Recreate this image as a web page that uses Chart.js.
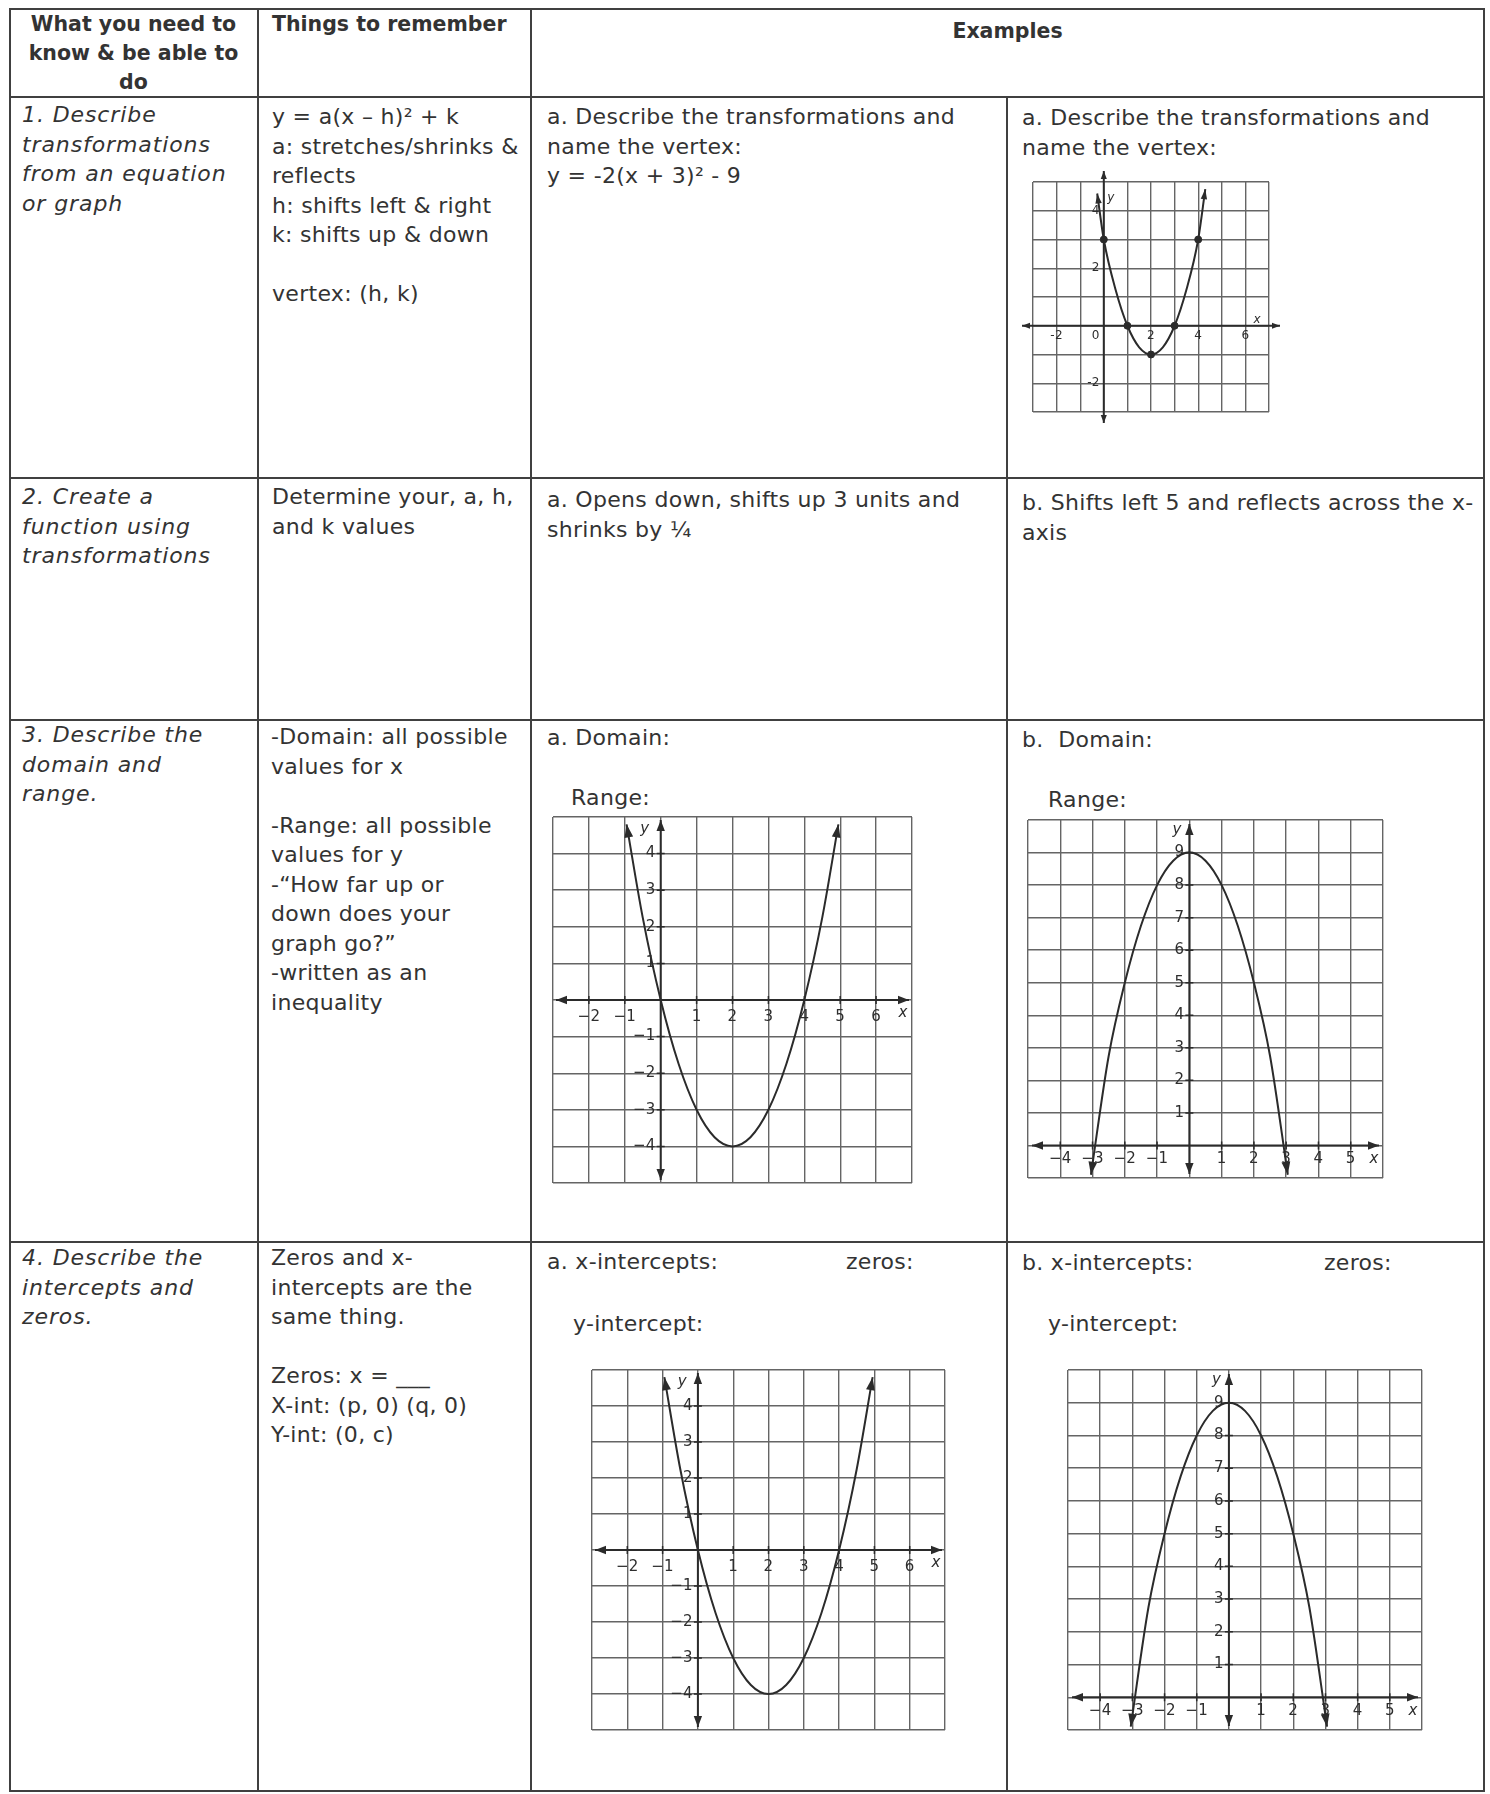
<!DOCTYPE html>
<html>
<head>
<meta charset="utf-8">
<script src="https://cdn.jsdelivr.net/npm/chart.js@4.4.0/dist/chart.umd.min.js"></script>
<style>
html, body { margin: 0; padding: 0; background: #fff; }
#page { position: relative; width: 1490px; height: 1794px; overflow: hidden;
        font-family: "DejaVu Sans", sans-serif; color: #333; font-size: 22px; line-height: 29.5px;
        letter-spacing: 0.3px; }
.hl { position: absolute; height: 2px; background: #404040; }
.vl { position: absolute; width: 2px; background: #404040; }
.t { position: absolute; white-space: nowrap; }
.i { font-style: italic; letter-spacing: 0.9px; }
.b { font-weight: bold; font-size: 20.5px; letter-spacing: 0; }
.c { text-align: center; }
canvas { position: absolute; }
</style>
</head>
<body>
<div id="page">
  <!-- table lines -->
  <div class="hl" style="left:9px;top:8px;width:1476px"></div>
  <div class="hl" style="left:9px;top:96px;width:1476px"></div>
  <div class="hl" style="left:9px;top:477px;width:1476px"></div>
  <div class="hl" style="left:9px;top:719px;width:1476px"></div>
  <div class="hl" style="left:9px;top:1241px;width:1476px"></div>
  <div class="hl" style="left:9px;top:1790px;width:1476px"></div>
  <div class="vl" style="left:9px;top:8px;height:1784px"></div>
  <div class="vl" style="left:257px;top:8px;height:1784px"></div>
  <div class="vl" style="left:530px;top:8px;height:1784px"></div>
  <div class="vl" style="left:1006px;top:96px;height:1696px"></div>
  <div class="vl" style="left:1483px;top:8px;height:1784px"></div>

  <!-- header -->
  <div class="t b c" style="left:9px;top:10px;width:249px;line-height:29px">What you need to<br>know &amp; be able to<br>do</div>
  <div class="t b" style="left:272px;top:10px">Things to remember</div>
  <div class="t b c" style="left:531px;top:17px;width:953px">Examples</div>

  <!-- row 1 -->
  <div class="t i" style="left:22px;top:100px">1. Describe<br>transformations<br>from an equation<br>or graph</div>
  <div class="t" style="left:272px;top:102px">y = a(x – h)² + k<br>a: stretches/shrinks &amp;<br>reflects<br>h: shifts left &amp; right<br>k: shifts up &amp; down<br><br>vertex: (h, k)</div>
  <div class="t" style="left:547px;top:102px">a. Describe the transformations and<br>name the vertex:<br>y = -2(x + 3)² - 9</div>
  <div class="t" style="left:1022px;top:103px">a. Describe the transformations and<br>name the vertex:</div>

  <!-- row 2 -->
  <div class="t i" style="left:22px;top:482px">2. Create a<br>function using<br>transformations</div>
  <div class="t" style="left:272px;top:482px">Determine your, a, h,<br>and k values</div>
  <div class="t" style="left:547px;top:485px">a. Opens down, shifts up 3 units and<br>shrinks by ¼</div>
  <div class="t" style="left:1022px;top:488px">b. Shifts left 5 and reflects across the x-<br>axis</div>

  <!-- row 3 -->
  <div class="t i" style="left:22px;top:720px">3. Describe the<br>domain and<br>range.</div>
  <div class="t" style="left:271px;top:722px">-Domain: all possible<br>values for x<br><br>-Range: all possible<br>values for y<br>-“How far up or<br>down does your<br>graph go?”<br>-written as an<br>inequality</div>
  <div class="t" style="left:547px;top:723px">a. Domain:</div>
  <div class="t" style="left:571px;top:783px">Range:</div>
  <div class="t" style="left:1022px;top:725px">b.&nbsp; Domain:</div>
  <div class="t" style="left:1048px;top:785px">Range:</div>

  <!-- row 4 -->
  <div class="t i" style="left:22px;top:1243px">4. Describe the<br>intercepts and<br>zeros.</div>
  <div class="t" style="left:271px;top:1243px">Zeros and x-<br>intercepts are the<br>same thing.<br><br>Zeros: x = ___<br>X-int: (p, 0) (q, 0)<br>Y-int: (0, c)</div>
  <div class="t" style="left:547px;top:1247px">a. x-intercepts:</div>
  <div class="t" style="left:846px;top:1247px">zeros:</div>
  <div class="t" style="left:573px;top:1309px">y-intercept:</div>
  <div class="t" style="left:1022px;top:1248px">b. x-intercepts:</div>
  <div class="t" style="left:1324px;top:1248px">zeros:</div>
  <div class="t" style="left:1048px;top:1309px">y-intercept:</div>

  <canvas id="g1"></canvas>
  <canvas id="g2"></canvas>
  <canvas id="g3"></canvas>
  <canvas id="g4"></canvas>
  <canvas id="g5"></canvas>
</div>

<script>
// Graph 1 (row 1): parabola with plotted points
const g1CurveX = [-0.28, 0, 0.5, 1, 1.5, 2, 2.5, 3, 3.5, 4, 4.3];
const g1CurveY = [4.6, 3, 1.25, 0, -0.75, -1, -0.75, 0, 1.25, 3, 4.75];
const g1DotX = [0, 1, 2, 3, 4];
const g1DotY = [3, 0, -1, 0, 3];
const g1XTicks = [-2, 0, 2, 4, 6];
const g1YTicks = [4, 2, -2];

// Graphs 2 and 4: opens up, vertex (2, -4)
const g2CurveX = [-0.95, -0.5, 0, 0.5, 1, 1.5, 2, 2.5, 3, 3.5, 4, 4.5, 4.95];
const g2CurveY = [4.8, 2.25, 0, -1.75, -3, -3.75, -4, -3.75, -3, -1.75, 0, 2.25, 4.8];
const g2XTicks = [-2, -1, 1, 2, 3, 4, 5, 6];
const g2YTicks = [4, 3, 2, 1, -1, -2, -3, -4];

// Graphs 3 and 5: opens down, vertex (0, 9)
const g3CurveX = [-3.05, -2.5, -2, -1.5, -1, -0.5, 0, 0.5, 1, 1.5, 2, 2.5, 3.05];
const g3CurveY = [-0.9, 2.75, 5, 6.75, 8, 8.75, 9, 8.75, 8, 6.75, 5, 2.75, -0.9];
const g3XTicks = [-4, -3, -2, -1, 1, 2, 3, 4, 5];
const g3YTicks = [1, 2, 3, 4, 5, 6, 7, 8, 9];

const PAD = 24;
const INK = '#2b2b2b';

function toPoints(xs, ys) {
    return xs.map((x, i) => ({ x: x, y: ys[i] }));
}

function arrowHead(ctx, x, y, ang, len, half) {
    ctx.beginPath();
    ctx.moveTo(x, y);
    ctx.lineTo(x - len * Math.cos(ang) + half * Math.sin(ang), y - len * Math.sin(ang) - half * Math.cos(ang));
    ctx.lineTo(x - len * Math.cos(ang) - half * Math.sin(ang), y - len * Math.sin(ang) + half * Math.cos(ang));
    ctx.closePath();
    ctx.fill();
}

function fmt(v, minus) {
    return v < 0 ? minus + Math.abs(v) : String(v);
}

// axes with arrows, tick labels and curve-end arrows
const axesPlugin = {
    id: 'axes',
    beforeDatasetsDraw(chart, args, o) {
        const { ctx, chartArea: a, scales: { x, y } } = chart;
        const x0 = x.getPixelForValue(0), y0 = y.getPixelForValue(0);
        const e = o.ext;
        ctx.save();
        ctx.strokeStyle = INK;
        ctx.fillStyle = INK;
        ctx.lineWidth = 2;
        ctx.beginPath();
        ctx.moveTo(a.left - e, y0); ctx.lineTo(a.right + e, y0);
        ctx.moveTo(x0, a.top - e); ctx.lineTo(x0, a.bottom + e);
        ctx.stroke();
        arrowHead(ctx, a.right + e, y0, 0, o.arrow, o.arrow * 0.38);
        arrowHead(ctx, a.left - e, y0, Math.PI, o.arrow, o.arrow * 0.38);
        arrowHead(ctx, x0, a.top - e, -Math.PI / 2, o.arrow, o.arrow * 0.38);
        arrowHead(ctx, x0, a.bottom + e, Math.PI / 2, o.arrow, o.arrow * 0.38);

        if (o.tick) {
            ctx.lineWidth = 1.5;
            ctx.beginPath();
            o.xTicks.forEach(v => {
                const px = x.getPixelForValue(v);
                ctx.moveTo(px, y0 - o.tick); ctx.lineTo(px, y0 + o.tick);
            });
            o.yTicks.forEach(v => {
                const py = y.getPixelForValue(v);
                ctx.moveTo(x0 - o.tick, py); ctx.lineTo(x0 + o.tick, py);
            });
            ctx.stroke();
        }

        ctx.fillStyle = '#2e2e2e';
        ctx.font = o.font;
        ctx.textBaseline = 'middle';
        ctx.textAlign = 'center';
        o.xTicks.forEach(v => {
            const px = x.getPixelForValue(v) + (v === 0 ? o.zeroShift : 0);
            ctx.fillText(fmt(v, o.minus), px, y0 + o.xLabOff);
        });
        ctx.textAlign = 'right';
        o.yTicks.forEach(v => {
            ctx.fillText(fmt(v, o.minus), x0 - o.yLabOff, y.getPixelForValue(v));
        });
        ctx.textAlign = 'center';
        ctx.font = 'italic ' + o.font;
        ctx.fillText('x', x.getPixelForValue(o.xName[0]), y.getPixelForValue(o.xName[1]));
        ctx.fillText('y', x.getPixelForValue(o.yName[0]), y.getPixelForValue(o.yName[1]));
        ctx.restore();
    },
    afterDatasetsDraw(chart, args, o) {
        const pts = chart.getDatasetMeta(0).data;
        const { ctx } = chart;
        const n = pts.length;
        const last = pts[n - 1], prev = pts[n - 2], first = pts[0], second = pts[1];
        const lx = last.cp1x !== undefined ? last.cp1x : prev.x;
        const ly = last.cp1y !== undefined ? last.cp1y : prev.y;
        const fx = first.cp2x !== undefined ? first.cp2x : second.x;
        const fy = first.cp2y !== undefined ? first.cp2y : second.y;
        ctx.save();
        ctx.fillStyle = INK;
        arrowHead(ctx, last.x, last.y, Math.atan2(last.y - ly, last.x - lx), o.arrow + 2, o.arrow * 0.4);
        arrowHead(ctx, first.x, first.y, Math.atan2(first.y - fy, first.x - fx), o.arrow + 2, o.arrow * 0.4);
        ctx.restore();
    }
};

function gridScale(min, max) {
    return {
        type: 'linear',
        min: min,
        max: max,
        afterBuildTicks: s => {
            const t = [];
            for (let v = min; v <= max; v++) t.push({ value: v });
            s.ticks = t;
        },
        ticks: { display: false },
        grid: { color: '#656565', lineWidth: 1.4, drawTicks: false },
        border: { display: false }
    };
}

function makeGraph(id, box, xr, yr, curve, dots, axes) {
    const cv = document.getElementById(id);
    cv.width = box.w + PAD * 2;
    cv.height = box.h + PAD * 2;
    cv.style.left = (box.left - PAD) + 'px';
    cv.style.top = (box.top - PAD) + 'px';
    const datasets = [{
        data: curve,
        showLine: true,
        borderColor: INK,
        borderWidth: 2,
        pointRadius: 0,
        cubicInterpolationMode: 'monotone',
        clip: false
    }];
    if (dots) {
        datasets.push({
            data: dots,
            showLine: false,
            pointRadius: 3.5,
            pointBackgroundColor: INK,
            pointBorderColor: INK
        });
    }
    return new Chart(cv, {
        type: 'scatter',
        data: { datasets: datasets },
        options: {
            responsive: false,
            animation: false,
            events: [],
            layout: { padding: PAD },
            plugins: {
                legend: { display: false },
                tooltip: { enabled: false },
                axes: axes
            },
            scales: { x: gridScale(xr[0], xr[1]), y: gridScale(yr[0], yr[1]) }
        },
        plugins: [axesPlugin]
    });
}

const bigAxes2 = {
    ext: -3, arrow: 11, tick: 4, font: '15px "DejaVu Sans"', minus: '\u2212',
    xTicks: g2XTicks, yTicks: g2YTicks, xLabOff: 17, yLabOff: 5, zeroShift: 0,
    xName: [6.75, -0.36], yName: [-0.44, 4.67]
};
const bigAxes3 = {
    ext: -4, arrow: 11, tick: 4, font: '15px "DejaVu Sans"', minus: '\u2212',
    xTicks: g3XTicks, yTicks: g3YTicks, xLabOff: 14, yLabOff: 5, zeroShift: 0,
    xName: [5.72, -0.41], yName: [-0.38, 9.69]
};

makeGraph('g1', { left: 1033, top: 182, w: 236, h: 230 }, [-3, 7], [-3, 5],
    toPoints(g1CurveX, g1CurveY), toPoints(g1DotX, g1DotY),
    { ext: 11, arrow: 8, tick: 0, font: '12px "DejaVu Sans"', minus: '-',
      xTicks: g1XTicks, yTicks: g1YTicks, xLabOff: 10, yLabOff: 4, zeroShift: -8,
      xName: [6.5, 0.2], yName: [0.3, 4.45] });

makeGraph('g2', { left: 553, top: 817, w: 359, h: 366 }, [-3, 7], [-5, 5],
    toPoints(g2CurveX, g2CurveY), null, bigAxes2);

makeGraph('g3', { left: 1028, top: 820, w: 355, h: 358 }, [-5, 6], [-1, 10],
    toPoints(g3CurveX, g3CurveY), null, bigAxes3);

makeGraph('g4', { left: 592, top: 1370, w: 353, h: 360 }, [-3, 7], [-5, 5],
    toPoints(g2CurveX, g2CurveY), null, bigAxes2);

makeGraph('g5', { left: 1068, top: 1370, w: 354, h: 360 }, [-5, 6], [-1, 10],
    toPoints(g3CurveX, g3CurveY), null, bigAxes3);
</script>
</body>
</html>
